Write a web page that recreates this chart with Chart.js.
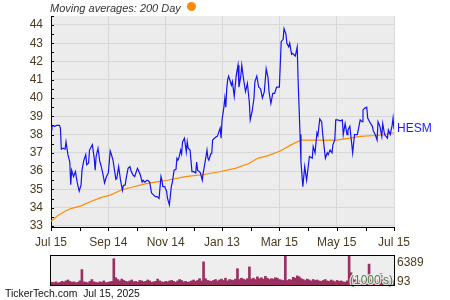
<!DOCTYPE html>
<html><head><meta charset="utf-8">
<script src="https://cdn.jsdelivr.net/npm/chart.js@4.4.1/dist/chart.umd.min.js"></script>
<style>
html,body{margin:0;padding:0;background:#fff;width:450px;height:300px;overflow:hidden;font-family:"Liberation Sans",Arial,sans-serif}
#wrap{position:relative;width:450px;height:300px}
#main{position:absolute;left:0;top:0}
#vol{position:absolute;left:0;top:250px}
.t{position:absolute;white-space:nowrap}
</style></head><body>
<div id="wrap">
<canvas id="main" width="450" height="250"></canvas>
<canvas id="vol" width="450" height="40"></canvas>
<div class="t" style="left:50px;top:1px;font-size:11px;font-style:italic;color:#333;line-height:14px">Moving averages: 200 Day</div>
<div style="position:absolute;left:187px;top:2px;width:9px;height:9px;border-radius:50%;background:#ff8c00"></div>
<div class="t" style="left:5px;top:287px;font-size:10.4px;color:#111;line-height:14px">TickerTech.com&nbsp;&nbsp;Jul 15, 2025</div>
</div>
<script>
// ---- data (days since Jul 15, 2024) ----
const ticker = 'HESM';
const xTickDays = [0, 61, 122, 182, 243, 304, 365];
const xTickLabels = ['Jul 15', 'Sep 14', 'Nov 14', 'Jan 13', 'Mar 15', 'May 15', 'Jul 15'];
const xMinorDays = [31, 92, 152, 213, 274, 335];
const yTicks = [33, 34, 35, 36, 37, 38, 39, 40, 41, 42, 43, 44];
const priceDays = [
  0,1,4,6,9,10,11,13,15,16,
  18,20,21,22,24,26,28,30,32,33,
  35,37,38,40,41,44,46,47,48,50,
  52,53,55,57,59,61,63,64,66,68,
  69,70,72,74,76,77,79,80,82,84,
  85,87,89,92,93,95,97,98,100,102,
  103,105,107,109,111,113,115,117,118,119,
  121,123,124,126,128,129,131,133,134,135,
  136,138,139,140,142,144,145,146,148,150,
  152,154,155,156,159,161,162,164,166,167,
  168,170,171,172,175,177,178,180,181,182,
  184,185,186,187,188,189,192,193,195,197,
  199,200,202,203,205,207,209,211,212,214,
  216,217,219,221,223,225,227,229,231,232,
  234,236,238,240,243,245,247,248,250,251,
  253,254,256,257,260,262,263,265,266,268,
  270,272,275,278,279,281,283,284,286,288,
  289,292,294,295,297,299,300,302,303,305,
  308,310,311,313,315,316,318,320,321,323,
  326,327,329,331,332,334,336,337,339,342,
  343,345,347,348,350,352,353,355,358,359,
  361,363,364,365];
const prices = [
  38.25,38.5,38.45,38.5,38.5,38.35,37.2,37.25,37.2,37.6,
  36.9,36.5,35.25,36.05,35.7,35.97,35.35,34.9,35.25,36.05,
  36.6,36.9,36.35,36.45,37.15,37.45,36.7,36.05,36.8,37.25,
  36.5,36.35,35.9,35.35,35.7,35.9,37.1,36.95,36.6,35.9,
  35.55,35.6,36.25,35.5,34.95,35.2,35.25,35.6,36.15,36.25,
  36.05,35.8,35.7,36.15,36.05,35.8,35.4,35.5,35.4,35.5,
  35.5,35.4,34.8,34.7,34.6,34.6,34.5,35.7,35.5,35.15,
  35.15,34.9,34.5,34.15,35.15,35.35,36.05,36.1,36.7,36.6,
  36.7,37.15,36.95,37.6,37.8,37.05,37.6,37.25,37.15,35.97,
  35.97,35.9,36.5,36.05,35.9,35.5,35.9,36.5,37.15,36.7,
  36.6,36.95,36.95,37.7,37.85,37.9,38.05,38.35,37.8,38.8,
  39.5,40.0,39.5,40.5,41.0,41.2,40.7,40.9,40.1,41.2,
  41.8,40.6,41.2,41.8,41.0,40.35,40.8,39.8,38.8,39.25,
  40.0,40.9,41.2,40.6,40.5,40.0,40.35,41.6,41.1,40.35,
  39.7,40.25,40.25,40.6,40.6,43.1,43.2,43.8,43.5,43.0,
  42.8,43.0,42.4,42.45,42.3,42.8,40.9,38.0,36.5,35.15,
  36.25,35.5,36.8,36.7,37.35,37.0,38.1,37.95,38.85,38.7,
  38.1,36.7,37.0,36.9,37.15,37.0,37.45,37.7,38.8,38.8,
  38.75,38.8,38.0,38.6,38.0,38.25,38.45,37.5,37.0,38.0,
  38.0,38.25,38.8,38.7,39.35,39.45,39.5,38.9,38.7,38.45,
  38.2,38.0,37.7,38.7,38.45,37.9,38.6,38.0,37.8,38.25,
  38.0,38.5,38.9,38.3];
const maDays = [0,7,15,21,32,43,53,64,74,85,100,111,124,143,161,178,196,210,220,231,244,256,266,304,318,329,345,355,365];
const maValues = [33.25,33.55,33.8,33.95,34.1,34.35,34.55,34.7,34.95,35.1,35.3,35.4,35.5,35.7,35.8,35.95,36.15,36.4,36.7,36.85,37.1,37.45,37.7,37.7,37.8,37.9,37.95,38.0,38.1];
// daily volume, thousands of shares
const volumes = [
  600,500,700,450,550,800,650,900,1100,800,
  600,700,500,600,900,3400,700,600,500,800,
  1200,700,600,500,700,600,900,500,600,700,
  800,5800,1600,1200,900,1300,1000,800,700,900,
  1100,700,800,600,1000,900,700,800,1100,900,
  600,700,800,1300,900,700,600,800,700,900,
  1000,800,600,900,1200,1000,700,800,600,700,
  900,1100,800,1000,1400,900,5100,1400,1000,900,
  800,1000,1200,900,1100,1300,1000,1500,900,1200,
  1100,1000,1300,3600,1200,1500,1300,1100,1400,4000,
  1300,1500,1200,1800,1400,1600,1300,1900,1500,1200,
  1400,1300,1600,1500,1200,1100,1000,6389,1000,1200,
  1100,1700,1500,2000,1800,1400,1200,1000,1300,1100,
  900,1200,1000,1100,900,800,1000,1200,900,800,
  1100,900,700,1000,800,900,700,600,900,6389,
  2700,1500,1200,1000,900,1100,800,900,1000,4600,
  1100,900,1000,800,1200,2500,1500,900,1000,800,
  1100,900];
const volMax = 6389, volMinLabel = 93;

// ---- drawing ----
const FONT = '"Liberation Sans", Arial, sans-serif';
const TXT = '#4a3b22';
const priceData = priceDays.map((d, i) => ({x: d, y: prices[i]}));
const maData = maDays.map((d, i) => ({x: d, y: maValues[i]}));

const mainDeco = {
  id: 'mainDeco',
  beforeDraw(chart) {
    const {ctx, chartArea: a} = chart;
    ctx.save();
    ctx.fillStyle = '#ececec';
    ctx.fillRect(a.left, a.top, a.right - a.left, a.bottom - a.top);
    ctx.restore();
  },
  afterDraw(chart) {
    const {ctx, chartArea: a, scales} = chart;
    const xs = scales.x, ys = scales.y;
    ctx.save();
    ctx.strokeStyle = '#000';
    ctx.lineWidth = 1;
    ctx.beginPath();
    for (let v = 33; v <= 44.5; v += 0.5) {
      const y = Math.round(ys.getPixelForValue(v)) + 0.5;
      ctx.moveTo(a.left, y); ctx.lineTo(a.left + 3, y);
    }
    xTickDays.concat(xMinorDays).forEach(d => {
      const x = Math.round(xs.getPixelForValue(d)) + 0.5;
      ctx.moveTo(x, a.bottom); ctx.lineTo(x, a.bottom + 4);
    });
    ctx.stroke();
    ctx.fillStyle = '#1a1aff';
    ctx.font = '12px ' + FONT;
    ctx.textBaseline = 'middle';
    ctx.textAlign = 'left';
    ctx.fillText(ticker, a.right + 3, ys.getPixelForValue(prices[prices.length - 1]));
    ctx.restore();
  }
};

new Chart(document.getElementById('main'), {
  type: 'line',
  data: {datasets: [
    {data: maData, borderColor: '#ff8c00', borderWidth: 1.2, pointRadius: 0, tension: 0, order: 2},
    {data: priceData, borderColor: '#1414f0', borderWidth: 1.2, pointRadius: 0, tension: 0, order: 1}
  ]},
  options: {
    responsive: false, animation: false,
    layout: {padding: {left: 0, right: 56, top: 16, bottom: 0}},
    plugins: {legend: {display: false}, tooltip: {enabled: false}},
    scales: {
      x: {
        type: 'linear', min: 0, max: 365,
        afterBuildTicks(s) { s.ticks = xTickDays.map(v => ({value: v})); },
        afterFit(s) { s.height = 23; },
        grid: {drawTicks: false, color: c => (c.tick && c.tick.value === 0) ? 'rgba(0,0,0,0)' : '#d8d8d8'},
        border: {color: '#000', width: 1},
        ticks: {padding: 8, color: TXT, font: {size: 12, family: FONT}, autoSkip: false, maxRotation: 0,
          callback: v => { const i = xTickDays.indexOf(v); return i >= 0 ? xTickLabels[i] : ''; }}
      },
      y: {
        type: 'linear', min: 32.94, max: 44.49,
        afterBuildTicks(s) { s.ticks = yTicks.map(v => ({value: v})); },
        afterFit(s) { s.width = 51; },
        grid: {drawTicks: false, color: '#d8d8d8'},
        border: {color: '#000', width: 1},
        ticks: {padding: 8, color: TXT, font: {size: 12, family: FONT}, callback: v => String(v)}
      }
    }
  },
  plugins: [mainDeco]
});

const volDeco = {
  id: 'volDeco',
  beforeDraw(chart) {
    const {ctx, chartArea: a} = chart;
    ctx.save();
    ctx.fillStyle = '#eeeeee';
    ctx.fillRect(a.left, a.top, a.right - a.left, a.bottom - a.top);
    ctx.restore();
  },
  afterDraw(chart) {
    const {ctx, chartArea: a} = chart;
    ctx.save();
    ctx.font = '12px ' + FONT;
    ctx.textBaseline = 'middle';
    ctx.textAlign = 'right';
    ctx.lineWidth = 2.5;
    ctx.strokeStyle = 'rgba(238,238,238,0.9)';
    ctx.strokeText("(1000's)", a.right - 1, a.bottom - 4);
    ctx.fillStyle = '#4f7f4f';
    ctx.fillText("(1000's)", a.right - 1, a.bottom - 4);
    ctx.strokeStyle = '#000';
    ctx.lineWidth = 1;
    ctx.strokeRect(a.left - 0.5, a.top - 0.5, a.right - a.left + 1, a.bottom - a.top + 1);
    ctx.textAlign = 'left';
    ctx.fillStyle = TXT;
    ctx.fillText(String(volMax), a.right + 3, a.top + 7);
    ctx.fillText(String(volMinLabel), a.right + 3, a.bottom - 3);
    ctx.restore();
  }
};

new Chart(document.getElementById('vol'), {
  type: 'bar',
  data: {labels: volumes.map((_, i) => i), datasets: [{data: volumes, backgroundColor: '#9b2f60', borderWidth: 0, barPercentage: 1, categoryPercentage: 1}]},
  options: {
    responsive: false, animation: false,
    layout: {padding: {left: 51, right: 56, top: 6, bottom: 5}},
    plugins: {legend: {display: false}, tooltip: {enabled: false}},
    scales: {x: {display: false}, y: {display: false, min: 0, max: volMax}}
  },
  plugins: [volDeco]
});
</script>
</body></html>
